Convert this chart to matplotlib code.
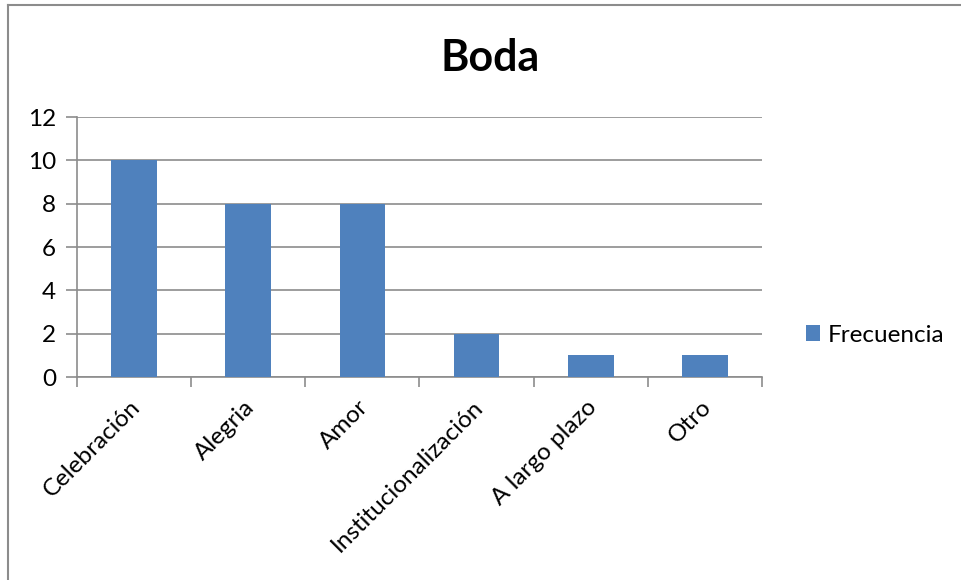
import matplotlib.pyplot as plt
from matplotlib.lines import Line2D

categorias = ['Celebración', 'Alegria', 'Amor', 'Institucionalización', 'A largo plazo', 'Otro']
frecuencia = [10, 8, 8, 2, 1, 1]
y_ticks = [0, 2, 4, 6, 8, 10, 12]

plt.rcParams['font.family'] = ['Lato', 'DejaVu Sans']

fig = plt.figure(figsize=(9.62, 5.8), dpi=100)
W, H = 962, 580

# marco del gráfico (solo se ven borde izquierdo y superior)
borde = dict(transform=fig.transFigure, color='#8c8c8c', linewidth=1.5)
fig.lines.append(Line2D([8 / W, 8 / W], [0, 1 - 5 / H], **borde))
fig.lines.append(Line2D([8 / W, 1], [1 - 5 / H, 1 - 5 / H], **borde))

ax = fig.add_axes([77 / W, (580 - 377) / H, (762 - 77) / W, (377 - 117) / H])

x = range(len(categorias))
ax.bar(x, frecuencia, width=0.4, color='#4F81BD', label='Frecuencia', zorder=3)

ax.set_xlim(-0.5, len(categorias) - 0.5)
ax.set_ylim(0, 12)
ax.set_yticks(y_ticks)
ax.tick_params(axis='y', length=8, color='#8c8c8c', width=1.2, labelsize=17.5, pad=7)
ax.grid(axis='y', color='#8c8c8c', linewidth=1.2, zorder=0)

ax.set_xticks([i - 0.5 for i in range(len(categorias) + 1)])
ax.set_xticklabels([])
ax.tick_params(axis='x', length=7, color='#8c8c8c', width=1.2)
ax.set_xticks([i - 0.04 for i in x], minor=True)
ax.set_xticklabels(categorias, minor=True, rotation=45, ha='right',
                   rotation_mode='anchor', fontsize=17.5)
ax.tick_params(axis='x', which='minor', length=0, pad=14)

for s in ['top', 'right']:
    ax.spines[s].set_visible(False)
for s in ['left', 'bottom']:
    ax.spines[s].set_color('#8c8c8c')
    ax.spines[s].set_linewidth(1.2)

fig.text(490 / W, 1 - 58 / H, 'Boda', ha='center', va='center',
         fontsize=31, fontweight='bold')

fig.legend(loc='center left', bbox_to_anchor=(796 / W, 1 - 335 / H),
           frameon=False, fontsize=17.5, handlelength=0.6, handleheight=0.6,
           handletextpad=0.3, borderaxespad=0)

fig.savefig('out.png', dpi=100)
